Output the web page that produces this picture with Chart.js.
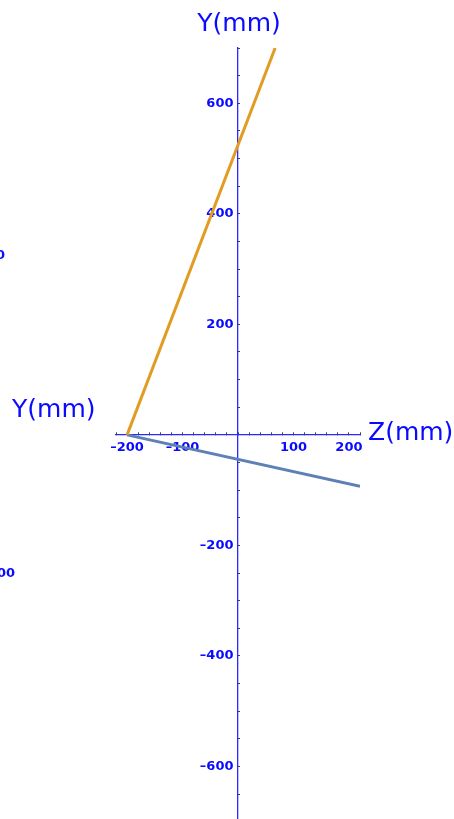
<!DOCTYPE html>
<html>
<head>
<meta charset="utf-8">
<script src="https://cdn.jsdelivr.net/npm/chart.js@4/dist/chart.umd.min.js"></script>
<style>
  html, body { margin: 0; padding: 0; background: #fff; overflow: hidden; }
  #wrap { position: relative; width: 454px; height: 819px; }
</style>
</head>
<body>
<div id="wrap"><canvas id="c"></canvas></div>
<script>
// Two straight segments in the Z–Y plane (mm)
const orangeZ = [-200, 67];
const orangeY = [0, 700];
const blueZ = [-200, 220];
const blueY = [0, -93];

// Axis ranges and ticks
const zRange = [-220, 220];
const yRange = [-695, 700];
const zTickValues = [-220, -200, -180, -160, -140, -120, -100, -80, -60, -40, -20, 0,
                     20, 40, 60, 80, 100, 120, 140, 160, 180, 200, 220];
const yTickValues = [-650, -600, -550, -500, -450, -400, -350, -300, -250, -200, -150, -100, -50, 0,
                     50, 100, 150, 200, 250, 300, 350, 400, 450, 500, 550, 600, 650, 700];
const zTickLabels = { '-200': '–200', '-100': '–100', '100': '100', '200': '200' };
const yTickLabels = { '-600': '–600', '-400': '–400', '-200': '–200', '200': '200', '400': '400', '600': '600' };

const BLUE_TEXT = '#0a0aff';
const tickFont = { family: 'DejaVu Sans', size: 13, weight: 'bold' };

const toPoints = (xs, ys) => xs.map((x, i) => ({ x: x, y: ys[i] }));

const noPad = s => { s.paddingTop = 0; s.paddingBottom = 0; s.paddingLeft = 0; s.paddingRight = 0; };

// Axis titles and the partial labels of the neighbouring panel
const titles = {
  id: 'titles',
  afterDraw(chart) {
    const ctx = chart.ctx;
    const xs = chart.scales.x, ys = chart.scales.y;
    const x0 = xs.getPixelForValue(0), y0 = ys.getPixelForValue(0);
    ctx.save();
    ctx.fillStyle = BLUE_TEXT;
    ctx.font = '25px "DejaVu Sans"';
    ctx.textBaseline = 'middle';
    ctx.textAlign = 'center';
    ctx.fillText('Y(mm)', x0 + 1, chart.chartArea.top - 24);
    ctx.textAlign = 'left';
    ctx.fillText('Z(mm)', xs.right + 8, y0 - 1);
    ctx.fillText('Y(mm)', 12, y0 - 24);
    ctx.font = 'bold 13px "DejaVu Sans"';
    ctx.textAlign = 'right';
    ctx.fillText('400', 5, 256);
    ctx.fillText('–200', 15, 574);
    ctx.restore();
  }
};

new Chart(document.getElementById('c'), {
  type: 'scatter',
  data: {
    datasets: [
      {
        data: toPoints(orangeZ, orangeY),
        showLine: true,
        borderColor: '#e19c24',
        borderWidth: 3,
        pointRadius: 0,
        borderCapStyle: 'butt'
      },
      {
        data: toPoints(blueZ, blueY),
        showLine: true,
        borderColor: '#5e81b5',
        borderWidth: 3,
        pointRadius: 0,
        borderCapStyle: 'butt'
      }
    ]
  },
  plugins: [titles],
  options: {
    responsive: true,
    maintainAspectRatio: false,
    animation: false,
    events: [],
    layout: { padding: { left: 116, right: 94, top: 48, bottom: 0 } },
    plugins: { legend: { display: false }, tooltip: { enabled: false } },
    scales: {
      x: {
        type: 'linear',
        position: { y: 0 },
        min: zRange[0],
        max: zRange[1],
        afterBuildTicks: s => { s.ticks = zTickValues.map(v => ({ value: v })); },
        afterFit: noPad,
        border: { color: '#2a2aff', width: 1.3 },
        grid: { drawOnChartArea: false, tickLength: -3, tickColor: '#444', tickWidth: 1 },
        ticks: {
          autoSkip: false,
          maxRotation: 0,
          padding: 8,
          color: BLUE_TEXT,
          font: tickFont,
          callback: v => zTickLabels[String(v)] || ''
        }
      },
      y: {
        type: 'linear',
        position: { x: 0 },
        min: yRange[0],
        max: yRange[1],
        afterBuildTicks: s => { s.ticks = yTickValues.map(v => ({ value: v })); },
        afterFit: noPad,
        border: { color: '#2a2aff', width: 1.3 },
        grid: { drawOnChartArea: false, tickLength: -3, tickColor: '#444', tickWidth: 1 },
        ticks: {
          autoSkip: false,
          color: BLUE_TEXT,
          font: tickFont,
          // a trailing space keeps the right-aligned labels clear of the axis line
          callback: v => (yTickLabels[String(v)] ? yTickLabels[String(v)] + '\u00a0' : '')
        }
      }
    }
  }
});
</script>
</body>
</html>
